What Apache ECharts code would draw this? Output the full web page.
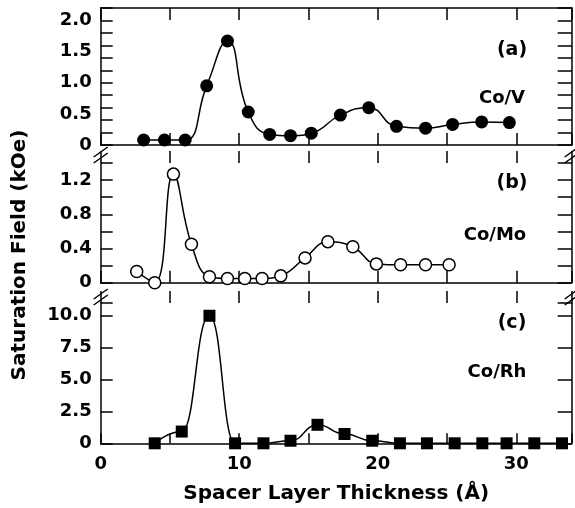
<!DOCTYPE html>
<html><head><meta charset="utf-8">
<script src="https://cdn.jsdelivr.net/npm/echarts@6/dist/echarts.min.js"></script>
<style>html,body{margin:0;padding:0;background:#fff}#c{width:575px;height:508px}</style>
</head><body><div id="c"></div>
<script>
// Panel (a) Co/V
const xCoV = [3.1, 4.6, 6.1, 7.65, 9.15, 10.65, 12.2, 13.7, 15.2, 17.3, 19.35, 21.35, 23.45, 25.4, 27.5, 29.5];
const yCoV = [0.08, 0.08, 0.08, 0.95, 1.67, 0.53, 0.17, 0.15, 0.19, 0.48, 0.60, 0.30, 0.27, 0.33, 0.37, 0.36];
// Panel (b) Co/Mo
const xCoMo = [2.6, 3.9, 5.25, 6.55, 7.85, 9.15, 10.4, 11.65, 13.0, 14.75, 16.4, 18.2, 19.9, 21.65, 23.45, 25.15];
const yCoMo = [0.13, 0.0, 1.27, 0.45, 0.07, 0.05, 0.05, 0.05, 0.08, 0.29, 0.48, 0.42, 0.22, 0.21, 0.21, 0.21];
// Panel (c) Co/Rh
const xCoRh = [3.9, 5.85, 7.85, 9.7, 11.75, 13.7, 15.65, 17.6, 19.6, 21.6, 23.55, 25.55, 27.55, 29.3, 31.3, 33.3];
const yCoRh = [0, 0.92, 10.0, 0, 0, 0.2, 1.45, 0.73, 0.2, 0, 0, 0, 0, 0, 0, 0];
// tick labels
const xTickLabels = [0, 10, 20, 30];
const yLabelsA = [0, 0.5, 1.0, 1.5, 2.0];
const yLabelsB = [0, 0.4, 0.8, 1.2];
const yLabelsC = [0, 2.5, 5.0, 7.5, 10.0];
const panelTags = ['(a)', '(b)', '(c)'];
const panelNames = ['Co/V', 'Co/Mo', 'Co/Rh'];

const FONT = 'DejaVu Sans';
const BLACK = '#000';
const grids = [
  {left: 100.7, right: 3.3, top: 8, height: 137},
  {left: 100.7, right: 3.3, top: 163, height: 119.7},
  {left: 100.7, right: 3.3, top: 303, height: 140.3}
];
const yRange = [{max: 2.2, tick: 0.2, lab: 0.5, labels: yLabelsA},
                {max: 1.4, tick: 0.2, lab: 0.4, labels: yLabelsB},
                {max: 11, tick: 2.5, lab: 2.5, labels: yLabelsC}];

function near(list, v) { return list.some(t => Math.abs(t - v) < 1e-6); }
function fmtY(v) { return v === 0 ? '0' : v.toFixed(1); }

const xAxes = [];
const yAxes = [];
grids.forEach((g, i) => {
  const last = i === 2;
  xAxes.push({
    type: 'value', gridIndex: i, position: 'bottom', min: 0, max: 34, interval: 5,
    axisLine: {show: true, onZero: false, lineStyle: {color: BLACK, width: 1.5}},
    axisTick: {show: true, inside: true, length: last ? 10 : 12, lineStyle: {color: BLACK, width: 1.5}},
    axisLabel: {show: last, color: BLACK, fontFamily: FONT, fontWeight: 'bold', fontSize: 18, margin: 12,
      formatter: v => near(xTickLabels, v) ? String(v) : ''},
    splitLine: {show: false},
    name: last ? 'Spacer Layer Thickness (Å)' : '',
    nameLocation: 'middle', nameGap: 40,
    nameTextStyle: {color: BLACK, fontFamily: FONT, fontWeight: 'bold', fontSize: 20}
  });
  xAxes.push({
    type: 'value', gridIndex: i, position: 'top', min: 0, max: 34, interval: 5,
    axisLine: {show: i === 0, onZero: false, lineStyle: {color: BLACK, width: 1.5}},
    axisTick: {show: true, inside: i === 0, length: 12, lineStyle: {color: BLACK, width: 1.5}},
    axisLabel: {show: false}, splitLine: {show: false}
  });
  const r = yRange[i];
  yAxes.push({
    type: 'value', gridIndex: i, position: 'left', min: 0, max: r.max, interval: r.tick,
    axisLine: {show: true, onZero: false, lineStyle: {color: BLACK, width: 1.5}},
    axisTick: {show: true, inside: true, length: 12, lineStyle: {color: BLACK, width: 1.5}},
    axisLabel: {show: false}, splitLine: {show: false}
  });
  yAxes.push({
    type: 'value', gridIndex: i, position: 'left', min: 0, max: r.max, interval: r.lab,
    axisLine: {show: false}, axisTick: {show: false}, splitLine: {show: false},
    axisLabel: {show: true, color: BLACK, fontFamily: FONT, fontWeight: 'bold', fontSize: 18, margin: 9,
      formatter: v => near(r.labels, v) ? fmtY(v) : ''}
  });
  yAxes.push({
    type: 'value', gridIndex: i, position: 'right', min: 0, max: r.max, interval: r.tick,
    axisLine: {show: true, onZero: false, lineStyle: {color: BLACK, width: 1.5}},
    axisTick: {show: true, inside: true, length: 14, lineStyle: {color: BLACK, width: 1.5}},
    axisLabel: {show: false}, splitLine: {show: false}
  });
});

function pairs(xs, ys) { return xs.map((x, k) => [x, ys[k]]); }

const series = [
  {type: 'line', xAxisIndex: 0, yAxisIndex: 0, data: pairs(xCoV, yCoV), smooth: 0.5,
   symbol: 'circle', symbolSize: 13, lineStyle: {color: BLACK, width: 1.5},
   itemStyle: {color: BLACK}, clip: true, z: 5},
  {type: 'line', xAxisIndex: 2, yAxisIndex: 3, data: pairs(xCoMo, yCoMo), smooth: 0.45,
   symbol: 'circle', symbolSize: 12, lineStyle: {color: BLACK, width: 1.5},
   itemStyle: {color: '#fff', borderColor: BLACK, borderWidth: 1.5}, clip: true, z: 5},
  {type: 'line', xAxisIndex: 4, yAxisIndex: 6, data: pairs(xCoRh, yCoRh), smooth: 0.5, smoothMonotone: 'x',
   symbol: 'rect', symbolSize: 12, lineStyle: {color: BLACK, width: 1.5},
   itemStyle: {color: BLACK}, clip: true, z: 5}
];

// decorations: panel tags, names, axis breaks, y title
const tagPos = [[512, 50], [512, 183], [512, 323]];
const namePos = [[502, 98], [495, 235], [497, 372]];
const graphic = [];
panelTags.forEach((t, i) => {
  graphic.push({type: 'text', x: tagPos[i][0], y: tagPos[i][1],
    style: {text: t, fill: BLACK, font: 'bold 19px "' + FONT + '"', textAlign: 'center', textVerticalAlign: 'middle'}});
  graphic.push({type: 'text', x: namePos[i][0], y: namePos[i][1],
    style: {text: panelNames[i], fill: BLACK, font: 'bold 18px "' + FONT + '"', textAlign: 'center', textVerticalAlign: 'middle'}});
});
const breakY = [155, 297];
[100.7, 571.7].forEach(bx => {
  breakY.forEach(by => {
    [-3, 3].forEach(off => {
      graphic.push({type: 'line', shape: {x1: bx - 7, y1: by + off + 5, x2: bx + 7, y2: by + off - 5},
        style: {stroke: BLACK, lineWidth: 1.5}});
    });
  });
});
graphic.push({type: 'text', x: 20, y: 255, rotation: Math.PI / 2,
  style: {text: 'Saturation Field (kOe)', fill: BLACK, font: 'bold 20px "' + FONT + '"', textAlign: 'center', textVerticalAlign: 'middle'}});

const chart = echarts.init(document.getElementById('c'), null, {renderer: 'canvas'});
chart.setOption({
  animation: false,
  backgroundColor: '#fff',
  grid: grids.map(g => Object.assign({outerBoundsMode: 'none', containLabel: false}, g)),
  xAxis: xAxes,
  yAxis: yAxes,
  series: series,
  graphic: graphic
});
</script></body></html>
